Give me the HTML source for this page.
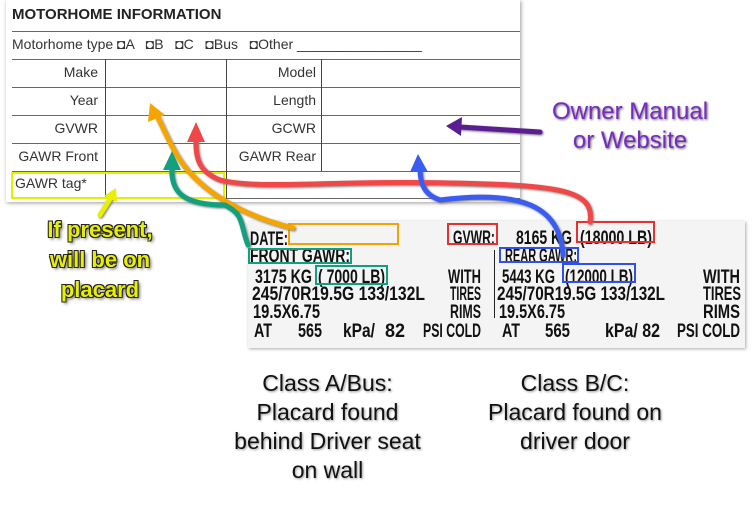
<!DOCTYPE html>
<html><head><meta charset="utf-8"><style>
body{margin:0;width:752px;height:515px;background:#fff;position:relative;overflow:hidden;font-family:"Liberation Sans",sans-serif}
.f{position:absolute;font-size:14px;color:#333}
.r{text-align:right}
.hl{position:absolute;height:1px;background:#666}
.vl{position:absolute;width:1px;background:#444}
.big{position:absolute;text-align:center;font-size:23px;line-height:29px;color:#111;text-shadow:1px 1px 2px #999}
</style></head><body>
<div style="position:absolute;left:6px;top:0;width:514px;height:202px;box-shadow:1px 1px 4px #999;background:#fff"></div>
<div class="f" style="left:12px;top:6px;font-weight:bold;font-size:15px;color:#222">MOTORHOME INFORMATION</div>
<div class="hl" style="left:12px;width:508px;top:31px"></div>
<div class="f" style="left:12px;top:36px">Motorhome type ◘A &nbsp; ◘B &nbsp; ◘C &nbsp; ◘Bus &nbsp; ◘Other ________________</div>
<div class="hl" style="left:12px;width:508px;top:59px"></div>
<div class="hl" style="left:12px;width:508px;top:87px"></div>
<div class="hl" style="left:12px;width:508px;top:115px"></div>
<div class="hl" style="left:12px;width:508px;top:143px"></div>
<div class="hl" style="left:12px;width:508px;top:171px"></div>
<div class="hl" style="left:12px;width:508px;top:198px"></div>
<div class="vl" style="left:105px;top:59px;height:140px"></div>
<div class="vl" style="left:226px;top:59px;height:140px"></div>
<div class="vl" style="left:321px;top:59px;height:112px"></div>
<div class="f r" style="left:10px;width:88px;top:64px">Make</div>
<div class="f r" style="left:10px;width:88px;top:92px">Year</div>
<div class="f r" style="left:10px;width:88px;top:120px">GVWR</div>
<div class="f r" style="left:10px;width:88px;top:148px">GAWR Front</div>
<div class="f" style="left:15px;top:175px">GAWR tag*</div>
<div class="f r" style="left:226px;width:90px;top:64px">Model</div>
<div class="f r" style="left:226px;width:90px;top:92px">Length</div>
<div class="f r" style="left:226px;width:90px;top:120px">GCWR</div>
<div class="f r" style="left:226px;width:90px;top:148px">GAWR Rear</div>
<div style="position:absolute;left:11px;top:172px;width:210px;height:23px;border:2px solid #e4f000"></div>

<div style="position:absolute;left:248px;top:221px;width:497px;height:127px;background:#f4f4f4;box-shadow:1px 1px 3px #aaa"></div>
<div class="vl" style="left:494px;top:250px;height:68px;background:#222"></div>

<svg width="752" height="515" style="position:absolute;left:0;top:0" fill="none">
<g fill="#111" font-family="Liberation Sans Narrow, Liberation Sans, sans-serif" font-weight="bold" font-size="19" lengthAdjust="spacingAndGlyphs">
<text x="250" y="245" textLength="38" lengthAdjust="spacingAndGlyphs">DATE:</text>
<text x="250" y="262" textLength="100" lengthAdjust="spacingAndGlyphs">FRONT GAWR:</text>
<text x="255" y="283" textLength="57" lengthAdjust="spacingAndGlyphs">3175 KG</text>
<text x="318" y="283" textLength="67" lengthAdjust="spacingAndGlyphs">( 7000 LB)</text>
<text x="448" y="283" textLength="33" lengthAdjust="spacingAndGlyphs">WITH</text>
<text x="252" y="300" textLength="173" lengthAdjust="spacingAndGlyphs">245/70R19.5G 133/132L</text>
<text x="450" y="300" textLength="31" lengthAdjust="spacingAndGlyphs">TIRES</text>
<text x="253" y="318" textLength="67" lengthAdjust="spacingAndGlyphs">19.5X6.75</text>
<text x="450" y="318" textLength="31" lengthAdjust="spacingAndGlyphs">RIMS</text>
<text x="254" y="337" textLength="18" lengthAdjust="spacingAndGlyphs">AT</text>
<text x="298" y="337" textLength="24" lengthAdjust="spacingAndGlyphs">565</text>
<text x="343" y="337" textLength="32" lengthAdjust="spacingAndGlyphs">kPa/</text>
<text x="385" y="337" textLength="20" lengthAdjust="spacingAndGlyphs">82</text>
<text x="423" y="337" textLength="58" lengthAdjust="spacingAndGlyphs">PSI COLD</text>
<text x="453" y="244" textLength="42" lengthAdjust="spacingAndGlyphs">GVWR:</text>
<text x="516" y="244" textLength="56" lengthAdjust="spacingAndGlyphs">8165 KG</text>
<text x="580" y="244" textLength="72" lengthAdjust="spacingAndGlyphs">(18000 LB)</text>
<text x="505" y="262" textLength="72" lengthAdjust="spacingAndGlyphs">REAR GAWR:</text>
<text x="502" y="283" textLength="53" lengthAdjust="spacingAndGlyphs">5443 KG</text>
<text x="565" y="283" textLength="68" lengthAdjust="spacingAndGlyphs">(12000 LB)</text>
<text x="703" y="283" textLength="37" lengthAdjust="spacingAndGlyphs">WITH</text>
<text x="497" y="300" textLength="168" lengthAdjust="spacingAndGlyphs">245/70R19.5G 133/132L</text>
<text x="703" y="300" textLength="38" lengthAdjust="spacingAndGlyphs">TIRES</text>
<text x="499" y="318" textLength="66" lengthAdjust="spacingAndGlyphs">19.5X6.75</text>
<text x="703" y="318" textLength="37" lengthAdjust="spacingAndGlyphs">RIMS</text>
<text x="502" y="337" textLength="18" lengthAdjust="spacingAndGlyphs">AT</text>
<text x="545" y="337" textLength="25" lengthAdjust="spacingAndGlyphs">565</text>
<text x="605" y="337" textLength="55" lengthAdjust="spacingAndGlyphs">kPa/ 82</text>
<text x="677" y="337" textLength="63" lengthAdjust="spacingAndGlyphs">PSI COLD</text>
</g>
<rect x="289" y="224" width="109" height="20" stroke="#f5a300" stroke-width="2"/>
<rect x="249" y="249" width="102" height="14" stroke="#10a080" stroke-width="2"/>
<rect x="316" y="266" width="71" height="18" stroke="#10a080" stroke-width="2"/>
<rect x="448" y="224" width="49" height="20" stroke="#e83030" stroke-width="2"/>
<rect x="577" y="222" width="77" height="20" stroke="#e83030" stroke-width="2"/>
<rect x="500" y="248" width="78" height="14" stroke="#3050ee" stroke-width="2"/>
<rect x="563" y="264" width="72" height="18" stroke="#3050ee" stroke-width="2"/>
<g stroke-width="5" stroke-linecap="round" style="filter:drop-shadow(1px 1px 1px #777)">
<path d="M590 222 C595 190 560 185 450 183 C330 180 260 190 220 180 C200 172 195 160 196 138" stroke="#f04848"/>
<path d="M563 255 C560 205 520 190 440 200 C425 195 420 185 420 168" stroke="#3b5cf0"/>
<path d="M293 228 C240 215 200 190 180 160 C170 145 162 125 157 116" stroke="#f5a500"/>
<path d="M248 245 C240 225 245 215 225 205 C180 205 170 190 172 165" stroke="#12a07e"/>
<path d="M540 132 L460 127" stroke="#5a1e90"/>
<path d="M100 215 L112 196" stroke="#e8f000"/>
</g>
<polygon points="196,122 187,142 205,142" fill="#f04848"/>
<polygon points="418,154 410,172 428,172" fill="#3b5cf0"/>
<polygon points="150,103 148,122 165,115" fill="#f5a500"/>
<polygon points="172,151 163,170 181,170" fill="#12a07e"/>
<polygon points="446,126 462,117 461,136" fill="#5a1e90"/>
<polygon points="116,188 104,196 117,202" fill="#e8f000"/>
</svg>

<div class="big" style="left:520px;top:97px;width:220px;color:#7a2ac0;font-size:24px;text-shadow:1px 1px 2px #666">Owner Manual<br>or Website</div>
<div class="big" style="left:10px;top:215px;width:180px;color:#e8f000;font-weight:bold;font-size:22px;line-height:30px;text-shadow:-1px -1px 0 #222,1px -1px 0 #222,-1px 1px 0 #222,1px 1px 0 #222,2px 2px 3px #555">If present,<br>will be on<br>placard</div>
<div class="big" style="left:205px;top:369px;width:245px">Class A/Bus:<br>Placard found<br>behind Driver seat<br>on wall</div>
<div class="big" style="left:460px;top:369px;width:230px">Class B/C:<br>Placard found on<br>driver door</div>
</body></html>
